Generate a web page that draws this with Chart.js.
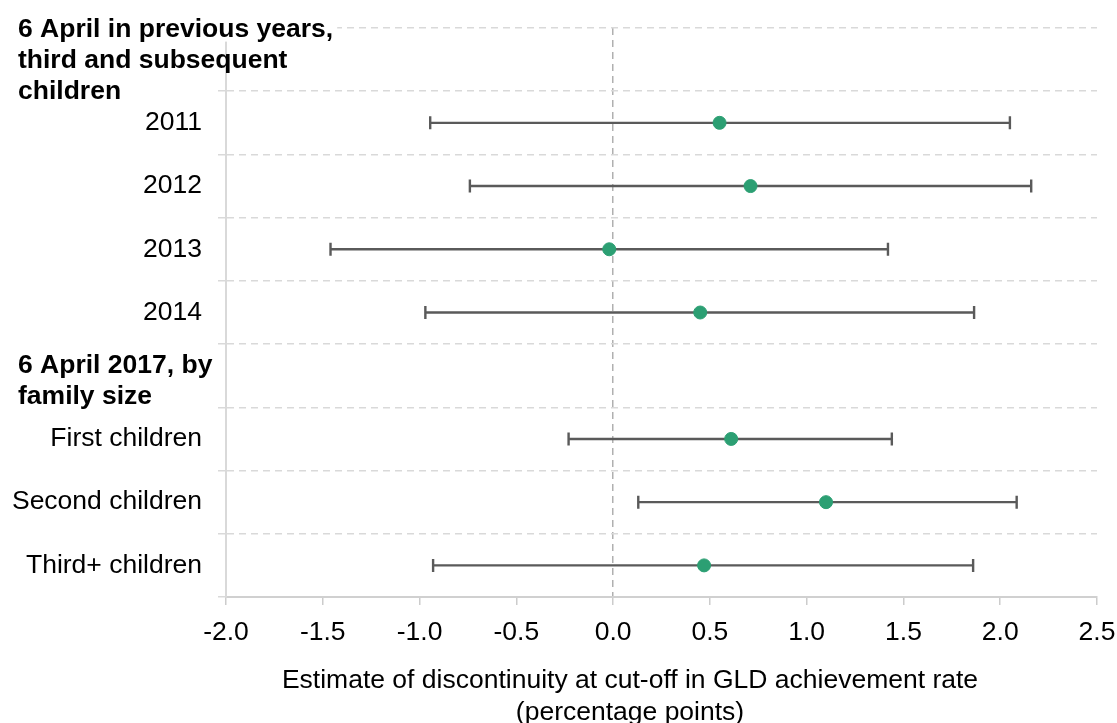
<!DOCTYPE html>
<html>
<head>
<meta charset="utf-8">
<script src="https://cdn.jsdelivr.net/npm/chart.js@4"></script>
<style>
    html, body { margin: 0; padding: 0; background: #fff; }
    #wrap { width: 1117px; height: 723px; }
</style>
</head>
<body>
<div id="wrap"><canvas id="main"></canvas></div>
<script>
// rows, top to bottom; 'h1' and 'h2' are the bold group headers
const rowKeys = ['h1', '2011', '2012', '2013', '2014', 'h2', 'First children', 'Second children', 'Third+ children'];
const headers = {
    h1: ['6 April in previous years,', 'third and subsequent', 'children'],
    h2: ['6 April 2017, by', 'family size']
};
const estimates = [null, 0.55, 0.71, -0.02, 0.45, null, 0.61, 1.10, 0.47];
const lower = [null, -0.945, -0.74, -1.46, -0.97, null, -0.23, 0.13, -0.93];
const upper = [null, 2.05, 2.16, 1.42, 1.865, null, 1.44, 2.085, 1.86];
const xTicks = [-2.0, -1.5, -1.0, -0.5, 0.0, 0.5, 1.0, 1.5, 2.0, 2.5];
const xTitle = ['Estimate of discontinuity at cut-off in GLD achievement rate', '(percentage points)'];

const FONT = 'Liberation Sans, Arial, sans-serif';
const GREEN = '#2c9f73';
const BAR = '#5a5a5a';

const points = [];
for (let i = 0; i < rowKeys.length; i++) {
    if (estimates[i] !== null) {
        points.push({ x: estimates[i], y: rowKeys[i], lo: lower[i], hi: upper[i] });
    }
}

// grey confidence interval bars with caps
const errorBars = {
    id: 'errorBars',
    beforeDatasetsDraw(chart) {
        const ctx = chart.ctx;
        const xs = chart.scales.x;
        const ys = chart.scales.y;
        ctx.save();
        ctx.strokeStyle = BAR;
        ctx.lineWidth = 2.4;
        points.forEach(p => {
            const y = ys.getPixelForValue(rowKeys.indexOf(p.y));
            const x1 = xs.getPixelForValue(p.lo);
            const x2 = xs.getPixelForValue(p.hi);
            ctx.beginPath();
            ctx.moveTo(x1, y);
            ctx.lineTo(x2, y);
            ctx.moveTo(x1, y - 6.5);
            ctx.lineTo(x1, y + 6.5);
            ctx.moveTo(x2, y - 6.5);
            ctx.lineTo(x2, y + 6.5);
            ctx.stroke();
        });
        ctx.restore();
    }
};

// bold headers and the two-line axis title
const extraText = {
    id: 'extraText',
    afterDraw(chart) {
        const ctx = chart.ctx;
        const ys = chart.scales.y;
        ctx.save();
        ctx.textBaseline = 'middle';
        ctx.font = 'bold 26.5px ' + FONT;
        ctx.fillStyle = '#000';
        Object.keys(headers).forEach(k => {
            const lines = headers[k];
            const cy = ys.getPixelForValue(rowKeys.indexOf(k)) + (k === 'h2' ? 5 : 1);
            const lh = 31;
            const top = cy - (lines.length - 1) * lh / 2;
            if (k === 'h1') {
                ctx.fillStyle = '#fff';
                ctx.fillRect(14, top - 12, ctx.measureText(lines[0]).width + 8, 24);
                ctx.fillStyle = '#000';
            }
            lines.forEach((t, j) => {
                ctx.textAlign = 'left';
                ctx.fillText(t, 18, top + j * lh);
            });
        });
        ctx.font = '26.5px ' + FONT;
        ctx.textAlign = 'center';
        ctx.fillText(xTitle[0], 630, 681);
        ctx.fillText(xTitle[1], 630, 713);
        ctx.restore();
    }
};

const myChart = new Chart(document.getElementById('main'), {
    type: 'scatter',
    data: {
        datasets: [{
            data: points,
            backgroundColor: GREEN,
            borderColor: GREEN,
            pointRadius: 6.5,
            pointHoverRadius: 6.5
        }]
    },
    options: {
        responsive: true,
        maintainAspectRatio: false,
        animation: false,
        layout: { padding: { left: 0, right: 20, top: 28, bottom: 0 } },
        plugins: {
            legend: { display: false },
            tooltip: { enabled: false }
        },
        scales: {
            x: {
                type: 'linear',
                min: -2,
                max: 2.5,
                afterBuildTicks: scale => {
                    scale.ticks = xTicks.map(v => ({ value: v }));
                },
                afterFit: scale => {
                    scale.height = 126;
                    scale.paddingLeft = 0;
                    scale.paddingRight = 0;
                },
                ticks: {
                    color: '#000',
                    font: { family: FONT, size: 26.5 },
                    padding: 12,
                    maxRotation: 0,
                    callback: v => v.toFixed(1)
                },
                grid: {
                    color: c => (c.tick && c.tick.value === 0) ? '#b0b0b0' : 'rgba(0,0,0,0)',
                    lineWidth: 1.5,
                    tickColor: '#cccccc',
                    tickLength: 8
                },
                border: { display: true, color: '#d0d0d0', width: 2, dash: [7, 5] }
            },
            y: {
                type: 'category',
                labels: rowKeys,
                offset: true,
                afterFit: scale => {
                    scale.width = 226;
                    scale.paddingTop = 0;
                    scale.paddingBottom = 0;
                },
                ticks: {
                    color: '#000',
                    font: { family: FONT, size: 26.5 },
                    padding: 16,
                    callback: function (v, i) {
                        const k = rowKeys[i];
                        return headers[k] ? '' : k;
                    }
                },
                grid: {
                    offset: true,
                    color: '#d9d9d9',
                    lineWidth: 1.5,
                    tickLength: 8
                },
                border: { display: true, color: '#d9d9d9', width: 2, dash: [7, 5] }
            }
        }
    },
    plugins: [errorBars, extraText]
});
</script>
</body>
</html>
